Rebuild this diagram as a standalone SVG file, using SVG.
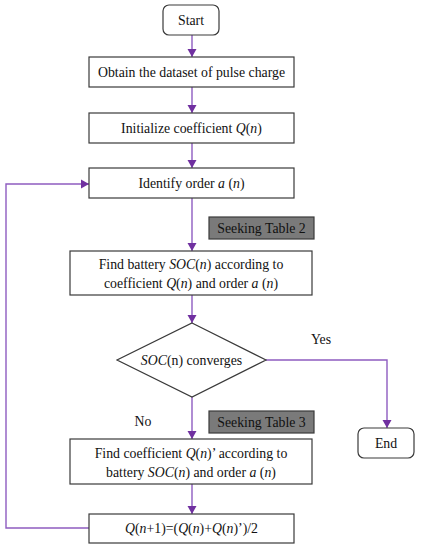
<svg xmlns="http://www.w3.org/2000/svg" width="421" height="550" viewBox="0 0 421 550">
<defs>
<marker id="ah" markerWidth="10" markerHeight="10" refX="8" refY="5" orient="auto" markerUnits="userSpaceOnUse">
<path d="M0,0.5 L8,5 L0,9.5 Z" fill="#7030a0"/>
</marker>
<style>
.box{fill:#fff;stroke:#3a3a3a;stroke-width:1.2}
.tag{fill:#7a7a7a;stroke:#3a3a3a;stroke-width:1.2}
.t{font-family:"Liberation Serif","Times New Roman",serif;font-size:13.8px;fill:#111;text-anchor:middle}
.c{fill:none;stroke:#8e5cc0;stroke-width:1.4}
</style>
</defs>
<rect width="421" height="550" fill="#fff"/>
<g id="connectors">
<line class="c" x1="192" y1="35" x2="192" y2="57" marker-end="url(#ah)"/>
<line class="c" x1="192" y1="87" x2="192" y2="113" marker-end="url(#ah)"/>
<line class="c" x1="192" y1="143" x2="192" y2="168" marker-end="url(#ah)"/>
<line class="c" x1="192" y1="198" x2="192" y2="251" marker-end="url(#ah)"/>
<line class="c" x1="192" y1="295" x2="192" y2="323" marker-end="url(#ah)"/>
<polyline class="c" points="266,360 387,360 387,428" marker-end="url(#ah)"/>
<line class="c" x1="192" y1="397" x2="192" y2="439" marker-end="url(#ah)"/>
<line class="c" x1="192" y1="484" x2="192" y2="514" marker-end="url(#ah)"/>
<polyline class="c" points="89,528 6,528 6,184 89,184" marker-end="url(#ah)"/>
</g>
<g id="start">
<rect class="box" x="163" y="5" width="56" height="30" rx="6"/>
<text class="t" x="191" y="24.5">Start</text>
</g>
<g id="obtain">
<rect class="box" x="89" y="57" width="205" height="30"/>
<text class="t" x="191.5" y="76.5">Obtain the dataset of pulse charge</text>
</g>
<g id="init">
<rect class="box" x="89" y="113" width="205" height="30"/>
<text class="t" x="191.5" y="132.5">Initialize coefficient <tspan font-style="italic">Q</tspan>(<tspan font-style="italic">n</tspan>)</text>
</g>
<g id="identify">
<rect class="box" x="89" y="168" width="205" height="30"/>
<text class="t" x="191.5" y="187.5">Identify order <tspan font-style="italic">a</tspan> (<tspan font-style="italic">n</tspan>)</text>
</g>
<g id="table2">
<rect class="tag" x="209" y="217" width="105" height="22"/>
<text class="t" x="261.5" y="232.5">Seeking Table 2</text>
</g>
<g id="findsoc">
<rect class="box" x="70" y="251" width="242" height="44"/>
<text class="t" x="191" y="268.5">Find battery <tspan font-style="italic">SOC</tspan>(<tspan font-style="italic">n</tspan>) according to</text>
<text class="t" x="191" y="287.5">coefficient <tspan font-style="italic">Q</tspan>(<tspan font-style="italic">n</tspan>) and order  <tspan font-style="italic">a</tspan> (<tspan font-style="italic">n</tspan>)</text>
</g>
<g id="decision">
<polygon class="box" points="192,323 266,360 192,397 117,360"/>
<text class="t" x="191.5" y="365"><tspan font-style="italic">SOC</tspan>(n) converges</text>
</g>
<text class="t" x="321" y="344">Yes</text>
<text class="t" x="143" y="426">No</text>
<g id="table3">
<rect class="tag" x="209" y="411" width="105" height="22"/>
<text class="t" x="261.5" y="426.5">Seeking Table 3</text>
</g>
<g id="end">
<rect class="box" x="358" y="428" width="56" height="30" rx="6"/>
<text class="t" x="386" y="447.5">End</text>
</g>
<g id="findq">
<rect class="box" x="70" y="439" width="242" height="45"/>
<text class="t" x="191" y="457.5">Find coefficient <tspan font-style="italic">Q</tspan>(<tspan font-style="italic">n</tspan>)’ according to</text>
<text class="t" x="191" y="477">battery <tspan font-style="italic">SOC</tspan>(<tspan font-style="italic">n</tspan>) and order  <tspan font-style="italic">a</tspan> (<tspan font-style="italic">n</tspan>)</text>
</g>
<g id="update">
<rect class="box" x="89" y="514" width="205" height="29"/>
<text class="t" x="191.5" y="533"><tspan font-style="italic">Q</tspan>(<tspan font-style="italic">n</tspan>+1)=(<tspan font-style="italic">Q</tspan>(<tspan font-style="italic">n</tspan>)+<tspan font-style="italic">Q</tspan>(<tspan font-style="italic">n</tspan>)’)/2</text>
</g>
</svg>
